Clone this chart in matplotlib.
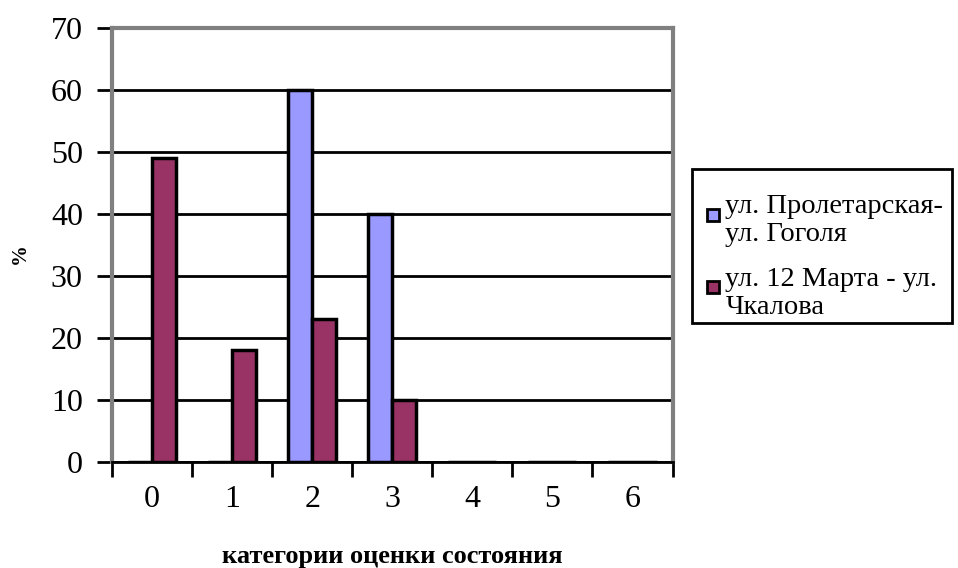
import numpy as np
import matplotlib
matplotlib.use("Agg")
import matplotlib.pyplot as plt
from matplotlib.patches import Patch, Rectangle
from matplotlib.legend_handler import HandlerPatch

categories = [0, 1, 2, 3, 4, 5, 6]
proletarskaya = [0, 0, 60, 40, 0, 0, 0]
marta12 = [49, 18, 23, 10, 0, 0, 0]
series_names = ["ул. Пролетарская-\nул. Гоголя", "ул. 12 Марта - ул.\nЧкалова"]
colors = ["#9999FF", "#993366"]

plt.rcParams["font.family"] = ["Liberation Serif", "DejaVu Serif"]


class TopSquare(HandlerPatch):
    # small square key at the right of the handle box, level with the first text line
    def create_artists(self, legend, orig_handle, xdescent, ydescent,
                       width, height, fontsize, trans):
        s = 0.42 * fontsize
        r = Rectangle((-xdescent + width - s, -ydescent + height - s - 0.3 * fontsize),
                      s, s, facecolor=orig_handle.get_facecolor(),
                      edgecolor="black", linewidth=2, transform=trans)
        return [r]


fig = plt.figure(figsize=(9.58, 5.68), dpi=100)
ax = fig.add_axes([0.117, 0.187, 0.585, 0.764])

x = np.arange(len(categories))
w = 0.3
for vals, off, c in [(proletarskaya, -w, colors[0]), (marta12, 0, colors[1])]:
    ax.bar(x + off, vals, width=w, align="edge", color=c,
           edgecolor="black", linewidth=2.5, zorder=3)

ax.set_xlim(-0.5, 6.5)
ax.set_ylim(0, 70)
ax.set_yticks(range(0, 71, 10))
ax.yaxis.grid(True, color="black", linewidth=2, zorder=1)
ax.tick_params(axis="y", direction="out", length=11, width=2, labelsize=23, pad=10)

ax.set_xticks(np.arange(-0.5, 7, 1))
ax.set_xticklabels([])
ax.set_xticks(x, minor=True)
ax.set_xticklabels([str(c) for c in categories], minor=True)
ax.tick_params(axis="x", which="major", direction="out", length=11, width=2)
ax.tick_params(axis="x", which="minor", length=0, labelsize=23, pad=17)

for side in ["top", "right", "left"]:
    ax.spines[side].set_color("#808080")
    ax.spines[side].set_linewidth(3)
ax.spines["bottom"].set_color("black")
ax.spines["bottom"].set_linewidth(2)

ax.set_xlabel("категории оценки состояния", fontsize=19, fontweight="bold",
              labelpad=22)
fig.text(0.021, 0.553, "%", rotation=90, fontsize=15, fontweight="bold",
         ha="center", va="center")

# legend box drawn separately so its size stays fixed
fig.patches.append(Rectangle((0.7223, 0.4313), 0.2714, 0.2712,
                             transform=fig.transFigure, fill=False,
                             edgecolor="black", linewidth=2))

handles = [Patch(facecolor=c, edgecolor="black") for c in colors]
leg = fig.legend(handles, series_names, loc="upper left",
                 bbox_to_anchor=(0.7105, 0.683), fontsize=20.5, frameon=False,
                 handlelength=0.85, handleheight=1.9,
                 handletextpad=0.22, borderpad=0.5, labelspacing=0.7,
                 borderaxespad=0, handler_map={Patch: TopSquare()})
for t in leg.get_texts():
    t.set_linespacing(1.15)

fig.savefig("out.png", dpi=100)
